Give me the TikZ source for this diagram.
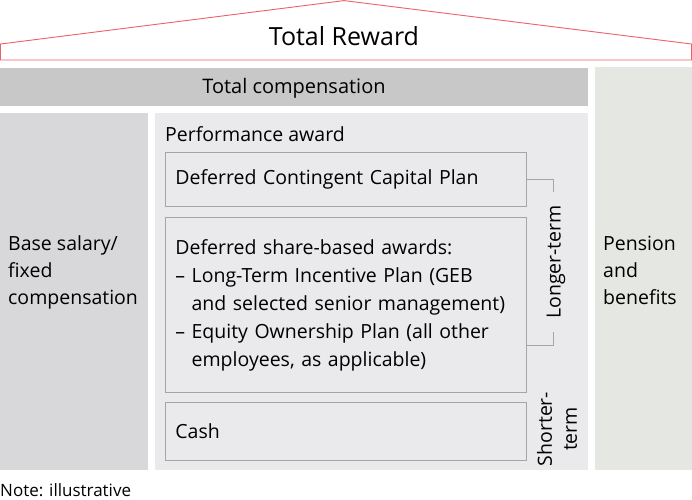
\documentclass[tikz,border=0pt]{standalone}
\usepackage{fontspec}
\setmainfont{Open Sans}
\usetikzlibrary{positioning}
\definecolor{roofred}{RGB}{236,96,104}
\definecolor{compgrey}{RGB}{200,200,200}
\definecolor{basegrey}{RGB}{216,216,219}
\definecolor{perfgrey}{RGB}{234,234,237}
\definecolor{pensiongrey}{RGB}{228,231,226}
\definecolor{boxline}{RGB}{165,165,165}
\tikzset{
  txt/.style={font=\fontsize{19.5}{28}\selectfont, inner sep=0pt, align=left},
  awardbox/.style={draw=boxline, line width=0.8pt, fill=perfgrey, txt,
    inner xsep=10pt, text width=341pt, minimum height=#1, anchor=north west},
  bracket/.style={draw=boxline, line width=0.8pt}
}
\begin{document}
\begin{tikzpicture}[x=1pt, y=-1pt]
    \useasboundingbox (0,0) rectangle (692,499);
    % roof
    \draw[roofred, line width=0.9pt] (0.5,60) -- (0.5,44) -- (344,0.6) -- (691.5,44) -- (691.5,60) -- cycle;
    \node[font=\fontsize{25}{30}\selectfont] (reward) at (344,36) {Total Reward};
    % columns
    \fill[compgrey] (0,68) rectangle (588,106);
    \node[txt, font=\fontsize{20}{24}\selectfont] (comp) at (294,88) {Total compensation};
    \fill[pensiongrey] (595,67) rectangle (692,470);
    \fill[basegrey] (0,113) rectangle (148,470);
    \fill[perfgrey] (155,113) rectangle (588,470);
    \node[txt, font=\fontsize{19.5}{27}\selectfont, anchor=base west] (base) at (8,304) {Base salary/\\fixed\\compensation};
    \node[txt, font=\fontsize{19.5}{27}\selectfont, anchor=base west] (pension) at (603,304) {Pension\\and\\benefits};
    % performance award
    \node[txt, anchor=base west] (perf) at (165,141) {Performance award};
    \node[awardbox=54pt] (dccp) at (165,152) {Deferred Contingent Capital Plan};
    \node[awardbox=175pt] (dsba) at (165,217) {Deferred share-based awards:\\
      -- Long-Term Incentive Plan (GEB\\
      \hphantom{-- }and selected senior management)\\
      -- Equity Ownership Plan (all other\\
      \hphantom{-- }employees, as applicable)};
    \node[awardbox=58pt] (cash) at (165,402) {Cash};
    % horizon brackets
    \coordinate (ltop) at (553,192);
    \coordinate (lbot) at (553,332);
    \draw[bracket] (dccp.east) -| (ltop);
    \draw[bracket] ([yshift=-40pt]dsba.east) -| (lbot);
    \node[txt, rotate=90] (longer) at (556,262) {Longer-term};
    \node[txt, rotate=90, align=center, font=\fontsize{19.5}{25}\selectfont] (shorter) at (557,429) {Shorter-\\term};
    % note
    \node[font=\fontsize{17}{18}\selectfont, inner sep=0pt, anchor=base west] (note) at (0,496) {Note: illustrative};
\end{tikzpicture}
\end{document}
